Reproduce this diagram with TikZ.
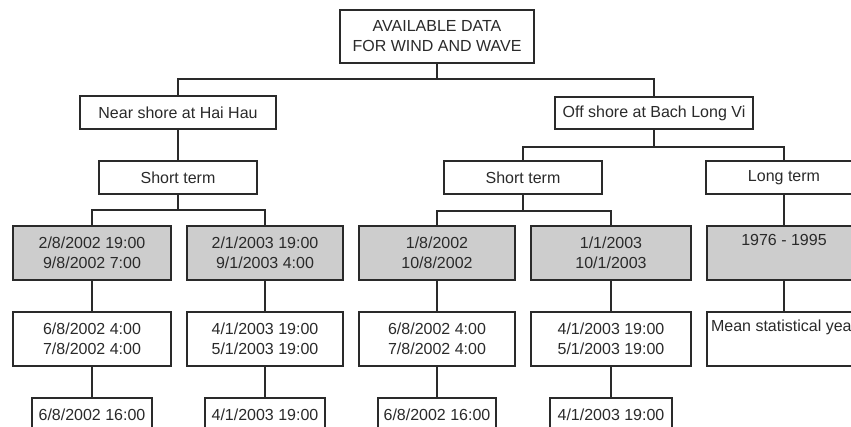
\documentclass[tikz,border=0pt]{standalone}
\usepackage{fontspec}
\setmainfont{Liberation Sans}
\definecolor{ink}{HTML}{2A2A2A}
\definecolor{shade}{HTML}{CDCDCD}
\begin{document}
\begin{tikzpicture}[x=1pt,y=-1pt,
  box/.style={draw=ink,line width=1.2pt,fill=white,inner sep=0pt,align=center,
    text=ink,font=\fontsize{16}{20}\selectfont},
  grey/.style={box,fill=shade},
  link/.style={draw=ink,line width=1.2pt}]
\clip (0,0) rectangle (851,427);
\fill[white] (0,0) rectangle (851,427);
% level 0
\node[box,minimum width=194,minimum height=53] (top) at (437,36.5) {AVAILABLE DATA\\FOR WIND AND WAVE};
% level 1
\node[box,minimum width=196,minimum height=33] (near) at (178,112.5) {Near shore at Hai Hau};
\node[box,minimum width=198,minimum height=32] (off) at (654,113) {Off shore at Bach Long Vi};
% level 2
\node[box,minimum width=158,minimum height=33] (stL) at (178,177.5) {Short term};
\node[box,minimum width=158,minimum height=33] (stR) at (523,177.5) {Short term};
\node[box,minimum width=156,minimum height=33] (lt) at (784,177.5) {Long term};
% level 3 (grey)
\node[grey,minimum width=158,minimum height=54] (g1) at (92,253) {2/8/2002 19:00\\9/8/2002 7:00};
\node[grey,minimum width=156,minimum height=54] (g2) at (265,253) {2/1/2003 19:00\\9/1/2003 4:00};
\node[grey,minimum width=156,minimum height=54] (g3) at (437,253) {1/8/2002\\10/8/2002};
\node[grey,minimum width=160,minimum height=54] (g4) at (611,253) {1/1/2003\\10/1/2003};
\node[grey,minimum width=154,minimum height=54] (g5) at (784,253) {1976 - 1995\\\strut};
% level 4
\node[box,minimum width=158,minimum height=54] (m1) at (92,339) {6/8/2002 4:00\\7/8/2002 4:00};
\node[box,minimum width=156,minimum height=54] (m2) at (265,339) {4/1/2003 19:00\\5/1/2003 19:00};
\node[box,minimum width=156,minimum height=54] (m3) at (437,339) {6/8/2002 4:00\\7/8/2002 4:00};
\node[box,minimum width=160,minimum height=54] (m4) at (611,339) {4/1/2003 19:00\\5/1/2003 19:00};
\node[box,minimum width=154,minimum height=54] (m5) at (784,339) {Mean statistical year\\\strut};
% level 5
\node[box,minimum width=120,minimum height=33] (b1) at (92,414.5) {6/8/2002 16:00};
\node[box,minimum width=120,minimum height=33] (b2) at (265,414.5) {4/1/2003 19:00};
\node[box,minimum width=118,minimum height=33] (b3) at (437,414.5) {6/8/2002 16:00};
\node[box,minimum width=122,minimum height=33] (b4) at (611,414.5) {4/1/2003 19:00};
% junctions
\coordinate (j0) at (437,79);
\coordinate (j1) at (178,210);
\coordinate (j2) at (654,147);
\coordinate (j3) at (523,211);
% connectors
\draw[link] (top.south) -- (j0);
\draw[link] (near.north) |- (j0);
\draw[link] (off.north) |- (j0);
\draw[link] (near.south) -- (stL.north);
\draw[link] (stL.south) -- (j1);
\draw[link] (g1.north) |- (j1);
\draw[link] (g2.north) |- (j1);
\draw[link] (off.south) -- (j2);
\draw[link] (stR.north) |- (j2);
\draw[link] (lt.north) |- (j2);
\draw[link] (stR.south) -- (j3);
\draw[link] (g3.north) |- (j3);
\draw[link] (g4.north) |- (j3);
\draw[link] (lt.south) -- (g5.north);
\foreach \i in {1,...,5} {\draw[link] (g\i.south) -- (m\i.north);}
\foreach \i in {1,...,4} {\draw[link] (m\i.south) -- (b\i.north);}
\end{tikzpicture}
\end{document}
